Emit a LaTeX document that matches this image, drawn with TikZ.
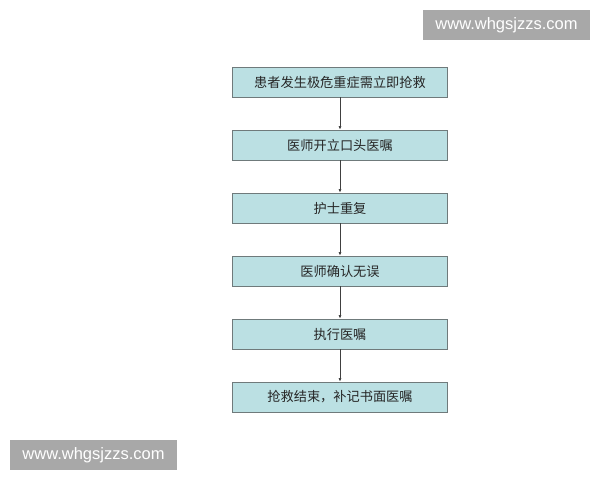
\documentclass[tikz,border=0pt]{standalone}
\usepackage{fontspec}
\setmainfont{Liberation Sans}
\newfontfamily\cjk{Noto Sans CJK SC}
\usetikzlibrary{positioning,arrows.meta}
\definecolor{boxfill}{HTML}{BBE0E3}
\definecolor{boxline}{HTML}{6F7A7B}
\definecolor{markgray}{HTML}{A8A8A8}
\begin{document}
\begin{tikzpicture}[x=1pt,y=-1pt,node distance=32.1pt,
  stepbox/.style={rectangle,draw=boxline,line width=0.9pt,fill=boxfill,minimum width=215pt,minimum height=30pt,inner sep=0pt,font=\cjk\fontsize{13.2}{15}\selectfont,text=black!85},
  wmark/.style={rectangle,fill=markgray,text=white,minimum width=167pt,minimum height=30pt,inner sep=0pt,font=\fontsize{16.5}{18}\selectfont}]
\useasboundingbox[fill=white] (0,0) rectangle (600,480);
\node [stepbox] (s1) at (340,82) {患者发生极危重症需立即抢救};
\node [stepbox,below=of s1] (s2) {医师开立口头医嘱};
\node [stepbox,below=of s2] (s3) {护士重复};
\node [stepbox,below=of s3] (s4) {医师确认无误};
\node [stepbox,below=of s4] (s5) {执行医嘱};
\node [stepbox,below=of s5] (s6) {抢救结束，补记书面医嘱};
\path [draw=black!75,line width=0.6pt,-{Latex[length=3.5pt,width=3pt]}]
(s1) edge (s2)
(s2) edge (s3)
(s3) edge (s4)
(s4) edge (s5)
(s5) edge (s6)
;
% watermarks
\node [wmark] (w1) at (506.5,25) {www.whgsjzzs.com};
\node [wmark] (w2) at (93.5,455) {www.whgsjzzs.com};
\end{tikzpicture}
\end{document}
